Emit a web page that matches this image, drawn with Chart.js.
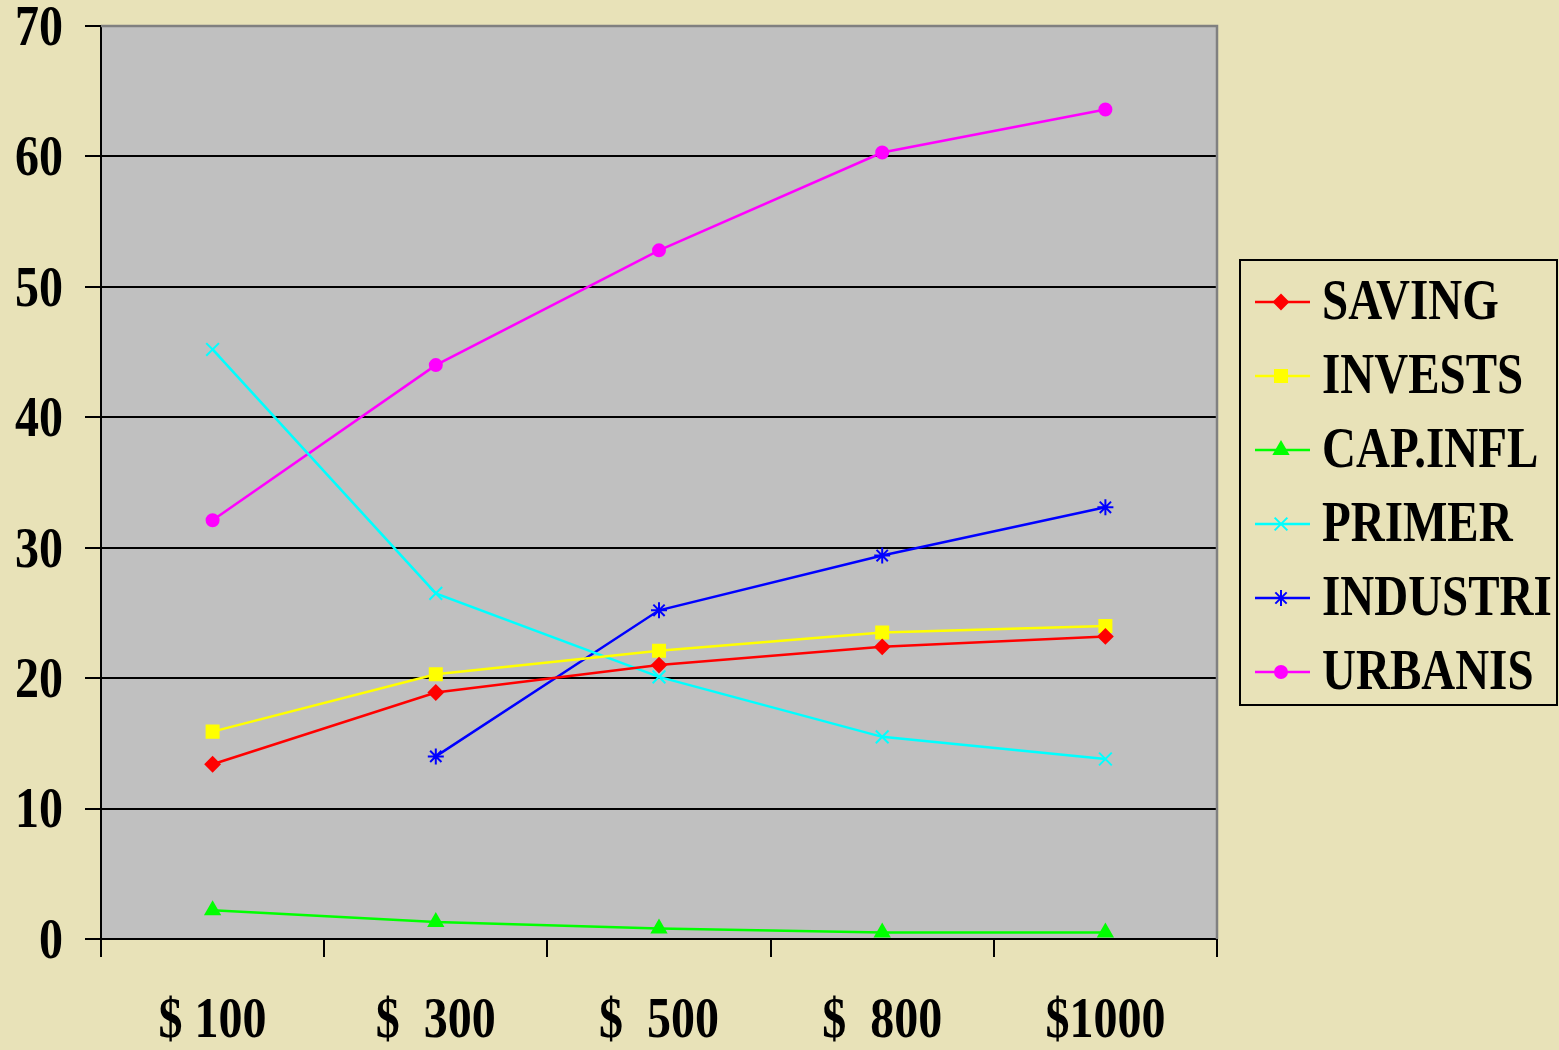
<!DOCTYPE html>
<html>
<head>
<meta charset="utf-8">
<script src="https://cdn.jsdelivr.net/npm/chart.js@4/dist/chart.umd.min.js"></script>
<style>
  html, body { margin: 0; padding: 0; background: #e8e2b8; overflow: hidden; }
  #chart { display: block; }
</style>
</head>
<body>
<canvas id="chart" width="1559" height="1050"></canvas>
<script>
// Data
const categories = ['$ 100', '$  300', '$  500', '$  800', '$1000'];
const saving   = [13.4, 18.9, 21.0, 22.4, 23.2];
const invests  = [15.9, 20.3, 22.1, 23.5, 24.0];
const capInfl  = [2.2, 1.3, 0.8, 0.5, 0.5];
const primer   = [45.2, 26.5, 20.1, 15.5, 13.8];
const industri = [null, 14.0, 25.2, 29.4, 33.1];
const urbanis  = [32.1, 44.0, 52.8, 60.3, 63.6];
const yTicks   = [0, 10, 20, 30, 40, 50, 60, 70];

const FONT = '"Liberation Serif", "Times New Roman", serif';
const TICK_FONT = `bold 48px ${FONT}`;
const LEGEND_FONT = `bold 47px ${FONT}`;
const STRETCH = 1.2; // the original text is drawn tall

function series(label, data, color, style, radius) {
  return {
    label: label,
    data: data,
    borderColor: color,
    backgroundColor: color,
    pointBackgroundColor: color,
    pointBorderColor: color,
    borderWidth: 2.5,
    pointStyle: style,
    pointRadius: radius,
    pointBorderWidth: 2,
    tension: 0,
    spanGaps: false,
  };
}

const datasets = [
  series('SAVING', saving, '#ff0000', 'rectRot', 7),
  series('INVESTS', invests, '#ffff00', 'rect', 8.5),
  series('CAP.INFL', capInfl, '#00ff00', 'triangle', 8),
  series('PRIMER', primer, '#00ffff', 'crossRot', 9),
  series('INDUSTRI', industri, '#0000ff', 'star', 8),
  series('URBANIS', urbanis, '#ff00ff', 'circle', 6),
];

function tallText(ctx, text, x, y, align) {
  ctx.save();
  ctx.translate(x, y);
  ctx.scale(1, STRETCH);
  ctx.textAlign = align;
  ctx.textBaseline = 'middle';
  ctx.fillText(text, 0, 0);
  ctx.restore();
}

const plotBackground = {
  id: 'plotBackground',
  beforeDraw(chart) {
    const { ctx, chartArea: a } = chart;
    ctx.save();
    ctx.fillStyle = '#e8e2b8';
    ctx.fillRect(0, 0, chart.width, chart.height);
    ctx.fillStyle = '#c0c0c0';
    ctx.fillRect(a.left, a.top, a.right - a.left, a.bottom - a.top);
    ctx.restore();
  },
  beforeDatasetsDraw(chart) {
    const { ctx, chartArea: a } = chart;
    ctx.save();
    ctx.strokeStyle = '#808080';
    ctx.lineWidth = 2.5;
    ctx.beginPath();
    ctx.moveTo(a.left, a.top);
    ctx.lineTo(a.right, a.top);
    ctx.lineTo(a.right, a.bottom);
    ctx.stroke();
    ctx.restore();
  },
};

// tick labels, placed by the scales
const tallTicks = {
  id: 'tallTicks',
  afterDraw(chart) {
    const ctx = chart.ctx;
    const x = chart.scales.x;
    const y = chart.scales.y;
    ctx.save();
    ctx.font = TICK_FONT;
    ctx.fillStyle = '#000';
    y.ticks.forEach((t, i) => {
      tallText(ctx, String(t.value), 63, y.getPixelForTick(i) + 4, 'right');
    });
    x.ticks.forEach((t, i) => {
      tallText(ctx, x.getLabelForValue(t.value), x.getPixelForTick(i), 1022, 'center');
    });
    ctx.restore();
  },
};

const boxLegend = {
  id: 'boxLegend',
  afterDraw(chart) {
    const ctx = chart.ctx;
    ctx.save();
    ctx.strokeStyle = '#000';
    ctx.lineWidth = 2;
    ctx.strokeRect(1240, 260, 317, 445);
    ctx.font = LEGEND_FONT;
    chart.data.datasets.forEach((ds, i) => {
      const cy = 302 + 74 * i;
      ctx.strokeStyle = ds.borderColor;
      ctx.lineWidth = 2.5;
      ctx.beginPath();
      ctx.moveTo(1255, cy);
      ctx.lineTo(1310, cy);
      ctx.stroke();
      ctx.fillStyle = ds.backgroundColor;
      ctx.lineWidth = 2;
      Chart.helpers.drawPoint(ctx, { pointStyle: ds.pointStyle, radius: ds.pointRadius, rotation: 0, borderWidth: 2 }, 1281, cy);
      ctx.fillStyle = '#000';
      tallText(ctx, ds.label, 1322, cy + 2, 'left');
    });
    ctx.restore();
  },
};

new Chart(document.getElementById('chart'), {
  type: 'line',
  data: { labels: categories, datasets: datasets },
  options: {
    responsive: false,
    animation: false,
    events: [],
    layout: { padding: { top: 26, right: 1559 - 1217, left: 0, bottom: 0 } },
    plugins: { legend: { display: false }, tooltip: { enabled: false } },
    scales: {
      x: {
        offset: true,
        grid: { offset: true, drawOnChartArea: false, drawTicks: true, tickLength: 18, tickColor: '#000', lineWidth: 2 },
        border: { color: '#000', width: 2 },
        ticks: { display: false },
        afterFit(scale) {
          scale.height = 1050 - 939;
          scale.paddingLeft = 0;
          scale.paddingRight = 0;
        },
      },
      y: {
        min: 0,
        max: 70,
        afterBuildTicks(scale) { scale.ticks = yTicks.map(v => ({ value: v })); },
        grid: {
          color: c => (c.tick && c.tick.value === 70 ? '#808080' : '#000'),
          tickColor: '#000',
          lineWidth: 2,
          tickLength: 16,
        },
        border: { color: '#000', width: 2 },
        ticks: { display: false },
        afterFit(scale) {
          scale.width = 101;
          scale.paddingTop = 0;
          scale.paddingBottom = 0;
        },
      },
    },
  },
  plugins: [plotBackground, tallTicks, boxLegend],
});
</script>
</body>
</html>
